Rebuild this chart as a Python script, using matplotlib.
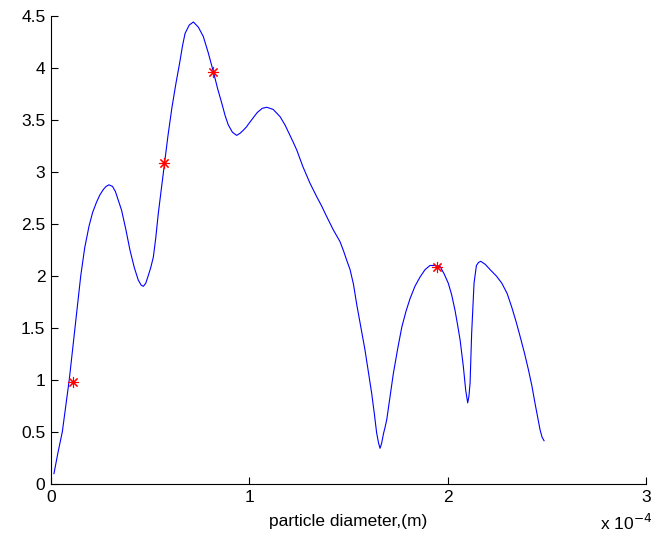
import matplotlib.pyplot as plt
import numpy as np
from matplotlib.ticker import FuncFormatter

plt.rcParams['font.family'] = ['Liberation Sans', 'DejaVu Sans']

# curve (diameter in units of 1e-4 m, value)
d = [0.015, 0.035, 0.057, 0.075, 0.092, 0.107, 0.121, 0.135, 0.150, 0.170, 0.192,
     0.210, 0.230, 0.247, 0.264, 0.278, 0.292, 0.310, 0.325, 0.339, 0.356, 0.377,
     0.398, 0.420, 0.440, 0.455, 0.466, 0.478, 0.490, 0.503, 0.516, 0.528, 0.541,
     0.556, 0.572, 0.590, 0.61, 0.63, 0.65, 0.663, 0.676, 0.697, 0.718, 0.743,
     0.768, 0.792, 0.819, 0.840, 0.861, 0.878, 0.894, 0.915, 0.936, 0.953, 0.970,
     0.985, 1.0, 1.02, 1.04, 1.065, 1.088, 1.12, 1.155, 1.18, 1.2, 1.22, 1.239,
     1.27, 1.306, 1.34, 1.365, 1.39, 1.424, 1.457, 1.475, 1.491, 1.508, 1.525,
     1.542, 1.563, 1.583, 1.600, 1.617, 1.630, 1.642, 1.652, 1.659, 1.667, 1.676,
     1.685, 1.693, 1.710, 1.726, 1.748, 1.769, 1.790, 1.81, 1.835, 1.861, 1.886,
     1.911, 1.935, 1.962, 1.982, 2.003, 2.020, 2.037, 2.050, 2.063, 2.079, 2.091,
     2.101, 2.107, 2.113, 2.121, 2.127, 2.133, 2.145, 2.156, 2.167, 2.190, 2.214,
     2.245, 2.273, 2.300, 2.323, 2.345, 2.365, 2.387, 2.407, 2.425, 2.44, 2.455,
     2.466, 2.476, 2.486]
f = [0.10, 0.30, 0.50, 0.76, 1.00, 1.26, 1.50, 1.75, 2.00, 2.27, 2.48,
     2.61, 2.71, 2.78, 2.83, 2.86, 2.875, 2.86, 2.81, 2.73, 2.63, 2.45,
     2.25, 2.08, 1.96, 1.91, 1.90, 1.93, 2.00, 2.08, 2.18, 2.36, 2.60,
     2.83, 3.08, 3.35, 3.62, 3.85, 4.06, 4.21, 4.33, 4.41, 4.44, 4.39,
     4.30, 4.15, 3.96, 3.80, 3.66, 3.54, 3.45, 3.38, 3.35, 3.37, 3.40,
     3.43, 3.47, 3.52, 3.57, 3.61, 3.62, 3.60, 3.53, 3.45, 3.37, 3.29, 3.21,
     3.05, 2.89, 2.76, 2.67, 2.57, 2.44, 2.33, 2.24, 2.15, 2.06, 1.92,
     1.72, 1.50, 1.29, 1.08, 0.87, 0.68, 0.49, 0.39, 0.343, 0.39, 0.48,
     0.55, 0.62, 0.85, 1.06, 1.30, 1.51, 1.66, 1.78, 1.90, 1.99, 2.06,
     2.10, 2.10, 2.09, 2.02, 1.93, 1.82, 1.67, 1.53, 1.38, 1.13, 0.90,
     0.78, 0.84, 0.97, 1.45, 1.70, 1.93, 2.10, 2.13, 2.14, 2.11, 2.06,
     2.00, 1.93, 1.83, 1.70, 1.56, 1.42, 1.26, 1.10, 0.94, 0.78, 0.63,
     0.52, 0.45, 0.416]

# marked points
star_d = [0.109, 0.572, 0.819, 1.948]
star_f = [0.98, 3.08, 3.96, 2.09]

fig = plt.figure(figsize=(6.52, 5.42), dpi=100)
ax = fig.add_axes([0.0782, 0.107, 0.9126, 0.864])

ax.plot(np.array(d) * 1e-4, f, color='#0000ff', linewidth=0.8)
ax.plot(np.array(star_d) * 1e-4, star_f, linestyle='none', marker=(8, 2, 0),
        color='red', markersize=8, markeredgewidth=0.8)

ax.set_xlim(0, 3e-4)
ax.set_ylim(0, 4.5)
ax.set_xticks([0, 1e-4, 2e-4, 3e-4])
ax.set_yticks(np.arange(0, 4.51, 0.5))
ax.xaxis.set_major_formatter(FuncFormatter(lambda v, p: '%g' % round(v * 1e4, 6)))
ax.yaxis.set_major_formatter(FuncFormatter(lambda v, p: '%g' % v))
ax.tick_params(direction='in', length=5, labelsize=12.5, width=0.8, pad=4)
ax.spines['top'].set_visible(False)
ax.spines['right'].set_visible(False)
ax.set_xlabel('particle diameter,(m)', fontsize=12.5, labelpad=7)
ax.text(0.922, -0.062, r'x 10$^{-4}$', transform=ax.transAxes, fontsize=12.5,
        va='top', ha='left')

fig.savefig('out.png', dpi=100)
